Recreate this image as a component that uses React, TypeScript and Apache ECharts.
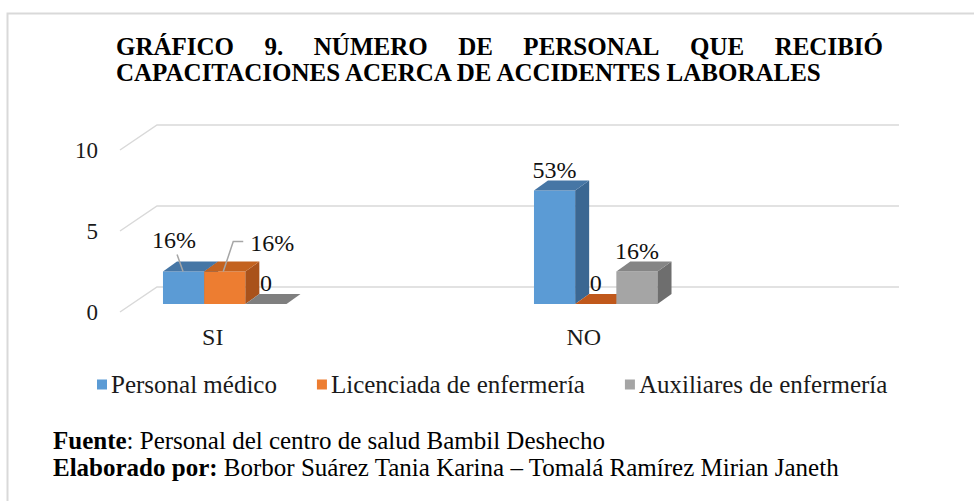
import React, { useEffect, useRef } from "react";
import * as echarts from "echarts";

const categories = ["SI", "NO"];
const seriesNames = ["Personal médico", "Licenciada de enfermería", "Auxiliares de enfermería"];
const personalMedico = [2, 7];
const licenciadaEnfermeria = [2, 0];
const auxiliaresEnfermeria = [0, 2];
const labelsMedico = ["16%", "53%"];
const labelsLicenciada = ["16%", "0"];
const labelsAuxiliares = ["0", "16%"];
const yTicks = [0, 5, 10];

const titleLine1 = ["GRÁFICO", "9.", "NÚMERO", "DE", "PERSONAL", "QUE", "RECIBIÓ"];
const titleLine2 = "CAPACITACIONES ACERCA DE ACCIDENTES LABORALES";
const fuenteText = "Personal del centro de salud Bambil Deshecho";
const elaboradoText = "Borbor Suárez Tania Karina – Tomalá Ramírez Mirian Janeth";

const FAMILY = "'Liberation Serif', 'Times New Roman', serif";
const palette = [
  { front: "#5b9bd5", top: "#4676a5", side: "#3b6792", zero: "#41719c" },
  { front: "#ed7d31", top: "#c3621f", side: "#a9521b", zero: "#c0581b" },
  { front: "#a5a5a5", top: "#858585", side: "#6e6e6e", zero: "#7f7f7f" },
];
// label placement overrides (style only): [seriesIndex-categoryIndex]
const labelPlacement: any = {
  "0-0": { dx: -9.5, dy: -32, leader: [[-6.5, -17], [-0.5, 0]] },
  "1-0": { dx: 47.5, dy: -29, leader: [[18.5, -30], [8.5, -30], [-1.5, 0]] },
};

const DEPTH_X = 37;
const DEPTH_Y = -25;
const FRONT_DX = 12;
const FRONT_DY = -8;
const BAR_DX = 14;
const BAR_DY = -10;

function measure(text: string, font: string) {
  const c = document.createElement("canvas").getContext("2d")!;
  c.font = font;
  return c.measureText(text).width;
}

function barRenderer(si: number, labels: string[]) {
  const col = palette[si];
  return (params: any, api: any) => {
    const cat = api.value(0);
    const val = api.value(1);
    const base = api.coord([cat, 0]);
    const topP = api.coord([cat, val]);
    const bw = api.size([1, 0])[0] * 0.111;
    const cx = base[0] + FRONT_DX + (si - 1) * bw;
    const x0 = cx - bw / 2;
    const x1 = cx + bw / 2;
    const yb = base[1] + FRONT_DY;
    const yt = topP[1] + FRONT_DY;
    const children: any[] = [];
    if (val > 0) {
      children.push({
        type: "rect",
        shape: { x: x0, y: yt, width: bw, height: yb - yt },
        style: { fill: col.front },
      });
      children.push({
        type: "polygon",
        shape: { points: [[x1, yt], [x1 + BAR_DX, yt + BAR_DY], [x1 + BAR_DX, yb + BAR_DY], [x1, yb]] },
        style: { fill: col.side },
      });
      children.push({
        type: "polygon",
        shape: { points: [[x0, yt], [x1, yt], [x1 + BAR_DX, yt + BAR_DY], [x0 + BAR_DX, yt + BAR_DY]] },
        style: { fill: col.top },
      });
    } else {
      children.push({
        type: "polygon",
        shape: { points: [[x0, yb], [x1, yb], [x1 + BAR_DX, yb + BAR_DY], [x0 + BAR_DX, yb + BAR_DY]] },
        style: { fill: col.zero },
      });
    }
    const key = si + "-" + params.dataIndex;
    const pl = labelPlacement[key];
    let lx = cx;
    let ly = yt - 21;
    if (pl) {
      lx = cx + pl.dx;
      ly = yt + pl.dy;
      children.push({
        type: "polyline",
        shape: { points: pl.leader.map((p: number[]) => [cx + p[0], yt + p[1]]) },
        style: { stroke: "#a6a6a6", lineWidth: 1.5, fill: "none" },
      });
    }
    children.push({
      type: "text",
      style: {
        text: labels[params.dataIndex],
        x: lx,
        y: ly,
        align: "center",
        verticalAlign: "middle",
        font: `24px ${FAMILY}`,
        fill: "#111",
      },
    });
    return { type: "group", children };
  };
}

export default function App() {
  const ref = useRef<HTMLDivElement>(null);
  useEffect(() => {
    const chart = echarts.init(ref.current!, null, { renderer: "svg" });

    const titleFont = `bold 25px ${FAMILY}`;
    const widths = titleLine1.map((w) => measure(w, titleFont));
    const left = 116;
    const right = 883;
    const sum = widths.reduce((a, b) => a + b, 0);
    const gap = (right - left - sum) / (titleLine1.length - 1);
    let xx = left;
    const titleEls: any[] = titleLine1.map((w, i) => {
      const el = {
        type: "text",
        x: xx,
        y: 46,
        style: { text: w, font: titleFont, fill: "#000", verticalAlign: "middle" },
      };
      xx += widths[i] + gap;
      return el;
    });
    titleEls.push({
      type: "text",
      x: left,
      y: 72,
      style: { text: titleLine2, font: titleFont, fill: "#000", verticalAlign: "middle" },
    });

    const seriesData = [personalMedico, licenciadaEnfermeria, auxiliaresEnfermeria];
    const seriesLabels = [labelsMedico, labelsLicenciada, labelsAuxiliares];

    const option: any = {
      animation: false,
      backgroundColor: "#fff",
      textStyle: { fontFamily: FAMILY },
      grid: { left: 120, right: 112, top: 150, bottom: 189 },
      xAxis: {
        type: "value",
        min: -0.25,
        max: 1.75,
        axisLine: { show: false },
        axisTick: { show: false },
        splitLine: { show: false },
        axisLabel: {
          customValues: [0, 1],
          formatter: (v: number) => categories[Math.round(v)] ?? "",
          fontSize: 24,
          fontFamily: FAMILY,
          color: "#1a1a1a",
          margin: 13,
        },
      },
      yAxis: {
        type: "value",
        min: 0,
        max: 10,
        interval: 5,
        axisLine: { show: false },
        axisTick: { show: false },
        splitLine: { show: false },
        axisLabel: { fontSize: 23, fontFamily: FAMILY, color: "#1a1a1a", margin: 22 },
      },
      legend: {
        data: seriesNames,
        left: 92,
        top: 367,
        icon: "rect",
        itemWidth: 10,
        itemHeight: 10,
        itemGap: 40,
        textStyle: { fontSize: 25, fontFamily: FAMILY, color: "#1a1a1a", padding: [0, 0, 0, -1] },
      },
      graphic: [
        {
          type: "polyline",
          shape: { points: [[7.5, 501], [7.5, 13.5], [974, 13.5]] },
          style: { stroke: "#d9d9d9", lineWidth: 2, fill: "none" },
        },
        ...titleEls,
        {
          type: "text",
          x: 53,
          y: 440,
          style: {
            text: "{b|Fuente}: " + fuenteText,
            rich: { b: { font: `bold 25px ${FAMILY}`, fill: "#000" } },
            font: `25px ${FAMILY}`,
            fill: "#000",
            verticalAlign: "middle",
          },
        },
        {
          type: "text",
          x: 53,
          y: 467,
          style: {
            text: "{b|Elaborado por:} " + elaboradoText,
            rich: { b: { font: `bold 25px ${FAMILY}`, fill: "#000" } },
            font: `25px ${FAMILY}`,
            fill: "#000",
            verticalAlign: "middle",
          },
        },
      ],
      series: [
        {
          type: "custom",
          silent: true,
          z: 0,
          data: yTicks.map((v) => [0, v]),
          renderItem: (params: any, api: any) => {
            const cs = params.coordSys;
            const y = api.coord([0, api.value(1)])[1];
            return {
              type: "polyline",
              shape: {
                points: [
                  [cs.x, y],
                  [cs.x + DEPTH_X, y + DEPTH_Y],
                  [cs.x + cs.width + DEPTH_X, y + DEPTH_Y],
                ],
              },
              style: { stroke: "#d9d9d9", lineWidth: 1.5, fill: "none" },
            };
          },
        },
        ...seriesData.map((arr, si) => ({
          type: "custom",
          name: seriesNames[si],
          z: 2,
          itemStyle: { color: palette[si].front },
          data: arr.map((v, ci) => [ci, v]),
          renderItem: barRenderer(si, seriesLabels[si]),
        })),
      ],
    };
    chart.setOption(option);
    return () => chart.dispose();
  }, []);
  return (
    <div
      ref={ref}
      style={{ position: "absolute", left: 0, top: 0, width: 974, height: 501, background: "#fff" }}
    />
  );
}
